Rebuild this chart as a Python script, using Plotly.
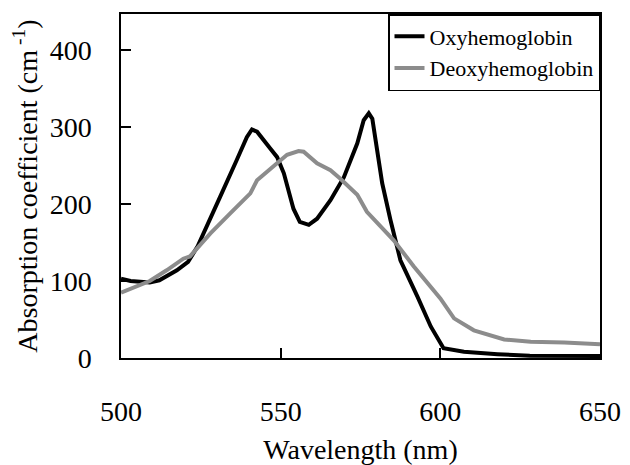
import plotly.graph_objects as go

# Absorption spectra of haemoglobin, 500-650 nm
oxy_wavelength = [500, 503, 509, 512, 517.5, 521, 524, 528, 531, 536, 539.4, 541, 542.6,
                  546.8, 548.9, 551, 554, 556, 558.8, 561.4, 565.6, 569.8, 574, 576,
                  577.6, 578.7, 580.2, 581.8, 584.4, 587.5, 592.8, 597, 601, 607.4,
                  617.9, 628, 650]
oxy_absorption = [103, 100, 98, 101, 114, 125, 145, 183, 209, 255, 287, 297, 294,
                  272, 261, 240, 194, 177, 173, 181, 205, 235, 279, 309,
                  318, 311, 266, 227, 179, 127, 80, 41, 12.6, 8,
                  5, 3, 2.6]

deoxy_wavelength = [500, 505, 509, 514.3, 519.5, 521.6, 528, 534.2, 540.5, 542.6, 546.8,
                    552, 555.6, 557.2, 561.4, 565.6, 568.7, 574, 577, 585.4, 591.7,
                    600, 604.3, 610.5, 620, 628.3, 638.8, 650]
deoxy_absorption = [85, 93, 100, 114, 129, 132, 162, 188, 214, 231, 246,
                    264, 269, 268, 253, 244, 233, 212, 190, 153, 119,
                    77.5, 51.5, 36, 24, 21, 20, 18]

x_ticks = [500, 550, 600, 650]
y_ticks = [0, 100, 200, 300, 400]

serif = "Liberation Serif"

fig = go.Figure()
fig.add_trace(go.Scatter(x=oxy_wavelength, y=oxy_absorption, mode="lines",
                         name="Oxyhemoglobin",
                         line=dict(color="#000000", width=4)))
fig.add_trace(go.Scatter(x=deoxy_wavelength, y=deoxy_absorption, mode="lines",
                         name="Deoxyhemoglobin",
                         line=dict(color="#8c8c8c", width=4)))

axis_common = dict(showgrid=False, zeroline=False, showline=True, mirror=True,
                   automargin=False,
                   linecolor="#000000", linewidth=1.5, ticks="inside",
                   ticklen=10, tickwidth=1.5, tickcolor="#000000",
                   tickfont=dict(family=serif, size=28, color="#000000"))

fig.update_xaxes(range=[500, 650], tickvals=x_ticks, ticklabelstandoff=28,
                 title=dict(text="Wavelength (nm)", standoff=18,
                            font=dict(family=serif, size=28, color="#000000")),
                 **axis_common)
fig.update_yaxes(range=[0, 447], tickvals=y_ticks, ticklabelstandoff=22,
                 title=dict(text="Absorption coefficient (cm<sup> -1</sup>)", standoff=4,
                            font=dict(family=serif, size=28, color="#000000")),
                 **axis_common)

fig.update_layout(
    width=630, height=465,
    margin=dict(l=121, r=30, t=14, b=107),
    paper_bgcolor="#ffffff", plot_bgcolor="#ffffff",
    font=dict(family=serif, color="#000000"),
    legend=dict(x=1, y=1, xanchor="right", yanchor="top",
                bgcolor="#ffffff", bordercolor="#000000", borderwidth=1.5,
                font=dict(family=serif, size=22, color="#000000"),
                tracegroupgap=0, itemwidth=30),
)

fig.write_html("out.html")
